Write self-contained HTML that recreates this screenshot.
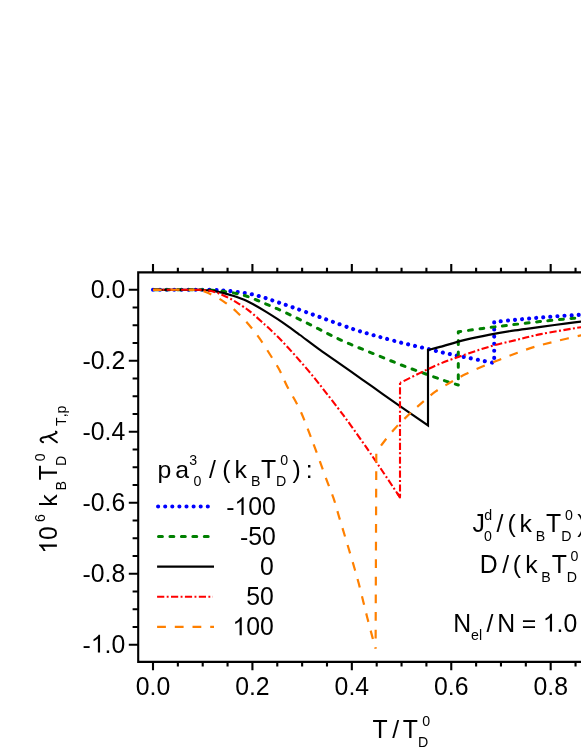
<!DOCTYPE html>
<html><head><meta charset="utf-8"><title>chart</title>
<style>
html,body{margin:0;padding:0;background:#fff;}
body{width:581px;height:752px;overflow:hidden;position:relative;font-family:"Liberation Sans",sans-serif;}
</style></head><body>
<svg width="581" height="752" viewBox="0 0 581 752" style="position:absolute;left:0;top:0;will-change:transform;font-family:'Liberation Sans',sans-serif;">
<rect width="581" height="752" fill="#fff"/>
<g fill="none" stroke-linejoin="miter">
<path d="M153.00 289.80 C160.83 289.80 189.67 289.77 200.00 289.80" stroke="#0000ff" stroke-width="4.1" stroke-linecap="round" stroke-linejoin="round" stroke-dasharray="0.01 7.09" stroke-dashoffset="-0.00"/>
<path d="M200.00 289.80 C210.33 289.83 210.83 289.87 215.00 290.00 C219.17 290.13 221.18 290.25 225.00 290.60 C228.82 290.95 233.45 291.50 237.90 292.10 C242.35 292.70 247.18 293.23 251.70 294.20 C256.22 295.17 260.53 296.52 265.00 297.90 C269.47 299.28 273.93 300.95 278.50 302.50 C283.07 304.05 286.65 305.18 292.40 307.20 C298.15 309.22 306.27 312.17 313.00 314.60 C319.73 317.03 326.05 319.37 332.80 321.80 C339.55 324.23 347.77 327.27 353.50 329.20 C359.23 331.13 362.67 332.07 367.20 333.40 C371.73 334.73 375.02 335.65 380.70 337.20 C386.38 338.75 394.42 340.98 401.30 342.70 C408.18 344.42 415.12 345.87 422.00 347.50 C428.88 349.13 435.73 350.95 442.60 352.50 C449.47 354.05 456.23 355.37 463.20 356.80 C470.17 358.23 479.23 360.07 484.40 361.10 C489.57 362.13 492.57 362.68 494.20 363.00" stroke="#0000ff" stroke-width="4.1" stroke-linecap="round" stroke-linejoin="round" stroke-dasharray="0.01 7.13" stroke-dashoffset="-2.11"/>
<path d="M494.20 363.00 L494.20 322.00 C497.73 321.63 508.37 320.48 515.40 319.80 C522.43 319.12 529.38 318.50 536.40 317.90 C543.42 317.30 550.32 316.72 557.50 316.20 C564.68 315.68 572.42 315.23 579.50 314.80 C586.58 314.37 596.58 313.80 600.00 313.60" stroke="#0000ff" stroke-width="4.1" stroke-linecap="round" stroke-linejoin="round" stroke-dasharray="0.01 7.09" stroke-dashoffset="-5.08"/>
<path d="M153.00 289.80 C160.83 289.80 190.17 289.73 200.00 289.80" stroke="#008000" stroke-width="3.0" stroke-linecap="round" stroke-linejoin="round" stroke-dasharray="3.9 7.55" stroke-dashoffset="-1.50"/>
<path d="M200.00 289.80 C209.83 289.87 208.33 289.97 212.00 290.20 C215.67 290.43 218.27 290.72 222.00 291.20 C225.73 291.68 230.48 292.33 234.40 293.10 C238.32 293.87 241.82 294.65 245.50 295.80 C249.18 296.95 253.07 298.62 256.50 300.00 C259.93 301.38 262.67 302.65 266.10 304.10 C269.53 305.55 271.87 306.32 277.10 308.70 C282.33 311.08 290.65 315.07 297.50 318.40 C304.35 321.73 311.32 325.25 318.20 328.70 C325.08 332.15 331.92 335.88 338.80 339.10 C345.68 342.32 352.52 345.08 359.50 348.00 C366.48 350.92 373.73 353.77 380.70 356.60 C387.67 359.43 394.42 362.33 401.30 365.00 C408.18 367.67 415.12 370.10 422.00 372.60 C428.88 375.10 436.55 377.93 442.60 380.00 C448.65 382.07 455.68 384.17 458.30 385.00" stroke="#008000" stroke-width="3.0" stroke-linecap="round" stroke-linejoin="round" stroke-dasharray="3.9 7.55" stroke-dashoffset="-10.53"/>
<path d="M458.30 385.00 L458.30 331.80 C462.42 331.23 474.58 329.50 483.00 328.40 C491.42 327.30 499.37 326.33 508.80 325.20 C518.23 324.07 528.73 322.77 539.60 321.60 C550.47 320.43 563.93 319.13 574.00 318.20 C584.07 317.27 595.67 316.37 600.00 316.00" stroke="#008000" stroke-width="3.0" stroke-linecap="round" stroke-linejoin="round" stroke-dasharray="3.9 7.55" stroke-dashoffset="-6.24"/>
<path d="M153.00 289.80 C159.17 289.80 182.17 289.78 190.00 289.80 C197.83 289.82 196.67 289.85 200.00 289.95 C203.33 290.05 206.33 289.96 210.00 290.40 C213.67 290.84 218.02 291.65 222.00 292.60 C225.98 293.55 229.92 294.78 233.90 296.10 C237.88 297.42 242.38 298.98 245.90 300.50 C249.42 302.02 251.62 303.32 255.00 305.20 C258.38 307.08 262.48 309.52 266.20 311.80 C269.92 314.08 273.58 316.43 277.30 318.90 C281.02 321.37 284.72 323.92 288.50 326.60 C292.28 329.28 294.75 331.12 300.00 335.00 C305.25 338.88 313.33 345.08 320.00 349.90 C326.67 354.72 332.95 358.95 340.00 363.90 C347.05 368.85 355.63 374.90 362.30 379.60 C368.97 384.30 373.67 387.63 380.00 392.10 C386.33 396.57 392.30 400.83 400.30 406.40 C408.30 411.97 423.38 422.32 428.00 425.50 L428.00 350.00 C430.00 349.48 433.83 348.58 440.00 346.90 C446.17 345.22 456.68 341.95 465.00 339.90 C473.32 337.85 481.58 336.18 489.90 334.60 C498.22 333.02 506.40 331.68 514.90 330.40 C523.40 329.12 532.55 328.03 540.90 326.90 C549.25 325.77 556.82 324.67 565.00 323.60 C573.18 322.53 585.83 321.02 590.00 320.50" stroke="#000" stroke-width="2.15"/>
<path d="M153.00 289.80 C160.00 289.80 186.33 289.73 195.00 289.80" stroke="#ff0000" stroke-width="2.1" stroke-dasharray="7.25 2.4 1.95 2.4" stroke-dashoffset="-0.00"/>
<path d="M195.00 289.80 C203.67 289.87 202.17 289.95 205.00 290.20 C207.83 290.45 209.87 290.82 212.00 291.30 C214.13 291.78 215.80 292.37 217.80 293.10 C219.80 293.83 221.88 294.75 224.00 295.70 C226.12 296.65 228.42 297.70 230.50 298.80 C232.58 299.90 234.50 301.08 236.50 302.30 C238.50 303.52 240.55 304.80 242.50 306.10 C244.45 307.40 246.33 308.68 248.20 310.10 C250.07 311.52 251.50 312.70 253.70 314.60 C255.90 316.50 259.18 319.52 261.40 321.50 C263.62 323.48 264.77 324.43 267.00 326.50 C269.23 328.57 272.22 331.37 274.80 333.90" stroke="#ff0000" stroke-width="2.1" stroke-dasharray="7.25 2.4 1.95 2.4" stroke-dashoffset="-13.17"/>
<path d="M274.80 333.90 C277.38 336.43 279.68 338.75 282.50 341.70 C285.32 344.65 288.75 348.35 291.70 351.60 C294.65 354.85 297.25 357.82 300.20 361.20 C303.15 364.58 306.35 368.25 309.40 371.90 C312.45 375.55 315.52 379.37 318.50 383.10 C321.48 386.83 324.08 390.17 327.30 394.30 C330.52 398.43 334.68 403.82 337.80 407.90 C340.92 411.98 343.27 415.10 346.00 418.80" stroke="#ff0000" stroke-width="2.1" stroke-dasharray="7.25 2.4 1.95 2.4" stroke-dashoffset="-3.25"/>
<path d="M346.00 418.80 C348.73 422.50 351.50 426.32 354.20 430.10 C356.90 433.88 359.55 437.70 362.20 441.50 C364.85 445.30 367.10 448.52 370.10 452.90 C373.10 457.28 377.20 463.35 380.20 467.80 C383.20 472.25 385.78 476.13 388.10 479.60 C390.42 483.07 392.12 485.65 394.10 488.60 C396.08 491.55 399.02 495.85 400.00 497.30" stroke="#ff0000" stroke-width="2.1" stroke-dasharray="7.25 2.4 1.95 2.4" stroke-dashoffset="-4.29"/>
<path d="M400.00 497.30 L400.00 382.90" stroke="#ff0000" stroke-width="2.1" stroke-dasharray="7.183 2.378 1.932 2.378" stroke-dashoffset="-5.72"/>
<path d="M400.00 382.90 C403.37 381.23 413.38 376.15 420.20 372.90 C427.02 369.65 433.30 366.48 440.90 363.40 C448.50 360.32 457.35 357.30 465.80 354.40" stroke="#ff0000" stroke-width="2.1" stroke-dasharray="7.25 2.4 1.95 2.4" stroke-dashoffset="-4.04"/>
<path d="M465.80 354.40 C474.25 351.50 482.98 348.45 491.60 346.00 C500.22 343.55 509.28 341.68 517.50 339.70 C525.72 337.72 530.32 336.18 540.90 334.10 C551.48 332.02 571.15 328.80 581.00 327.20 C590.85 325.60 596.83 324.95 600.00 324.50" stroke="#ff0000" stroke-width="2.1" stroke-dasharray="7.25 2.4 1.95 2.4" stroke-dashoffset="-2.66"/>
<path d="M397.00 492.80 L400.00 497.30 L400.00 493.80" stroke="#ff0000" stroke-width="2.1" stroke-linejoin="round"/>
<path d="M153.00 289.80 C159.17 289.80 182.17 289.67 190.00 289.80" stroke="#ff8000" stroke-width="2.2" stroke-dasharray="8.8 8.9" stroke-dashoffset="-0.00"/>
<path d="M190.00 289.80 C197.83 289.93 196.95 290.05 200.00 290.60 C203.05 291.15 204.40 291.32 208.30 293.10 C212.20 294.88 218.70 298.20 223.40 301.30 C228.10 304.40 232.25 307.78 236.50 311.70 C240.75 315.62 245.12 320.43 248.90 324.80 C252.68 329.17 255.68 332.95 259.20 337.90 C262.72 342.85 266.62 349.15 270.00 354.50 C273.38 359.85 276.63 364.68 279.50 370.00 C282.37 375.32 283.78 379.73 287.20 386.40 C290.62 393.07 295.87 401.07 300.00 410.00 C304.13 418.93 307.70 428.72 312.00 440.00" stroke="#ff8000" stroke-width="2.2" stroke-dasharray="8.8 8.9" stroke-dashoffset="-13.60"/>
<path d="M312.00 440.00 C316.30 451.28 322.20 467.97 325.80 477.70 C329.40 487.43 331.45 492.08 333.60 498.40 C335.75 504.72 336.98 509.87 338.70 515.60 C340.42 521.33 342.17 527.07 343.90 532.80 C345.63 538.53 347.30 543.97 349.10 550.00 C350.90 556.03 353.10 563.47 354.70 569.00 C356.30 574.53 357.32 577.97 358.70 583.20 C360.08 588.43 361.57 594.65 363.00 600.40 C364.43 606.15 365.83 611.95 367.30 617.70 C368.77 623.45 370.42 629.77 371.80 634.90 C373.18 640.03 374.97 646.23 375.60 648.50" stroke="#ff8000" stroke-width="2.2" stroke-dasharray="8.8 8.9" stroke-dashoffset="-4.81"/>
<path d="M375.60 648.50 L376.30 452.60" stroke="#ff8000" stroke-width="2.2" stroke-dasharray="8.75 8.85" stroke-dashoffset="-10.11"/>
<path d="M376.30 452.60 C377.48 450.92 380.22 446.62 383.40 442.50 C386.58 438.38 391.02 432.68 395.40 427.90 C399.78 423.12 405.30 417.97 409.70 413.80 C414.10 409.63 417.47 406.63 421.80 402.90 C426.13 399.17 430.80 394.88 435.70 391.40 C440.60 387.92 446.18 384.90 451.20 382.00 C456.22 379.10 460.50 376.62 465.80 374.00 C471.10 371.38 477.27 368.73 483.00 366.30 C488.73 363.87 494.45 361.65 500.20 359.40 C505.95 357.15 511.75 354.90 517.50 352.80 C523.25 350.70 528.27 348.73 534.70 346.80 C541.13 344.87 548.38 343.10 556.10 341.20 C563.82 339.30 573.68 337.03 581.00 335.40 C588.32 333.77 596.83 332.07 600.00 331.40" stroke="#ff8000" stroke-width="2.2" stroke-dasharray="8.8 8.9" stroke-dashoffset="-8.49"/>
</g>
<g stroke="#000" stroke-width="2.10" fill="none" stroke-linecap="butt">
<path d="M586.00 272.40 H138.20 V661.90 H586.00"/>
<path d="M153.00 272.40 v-8.40 M153.00 661.90 v8.40 M177.86 272.40 v-4.60 M177.86 661.90 v4.60 M202.71 272.40 v-4.60 M202.71 661.90 v4.60 M227.56 272.40 v-4.60 M227.56 661.90 v4.60 M252.42 272.40 v-8.40 M252.42 661.90 v8.40 M277.28 272.40 v-4.60 M277.28 661.90 v4.60 M302.13 272.40 v-4.60 M302.13 661.90 v4.60 M326.99 272.40 v-4.60 M326.99 661.90 v4.60 M351.84 272.40 v-8.40 M351.84 661.90 v8.40 M376.70 272.40 v-4.60 M376.70 661.90 v4.60 M401.55 272.40 v-4.60 M401.55 661.90 v4.60 M426.41 272.40 v-4.60 M426.41 661.90 v4.60 M451.26 272.40 v-8.40 M451.26 661.90 v8.40 M476.12 272.40 v-4.60 M476.12 661.90 v4.60 M500.97 272.40 v-4.60 M500.97 661.90 v4.60 M525.83 272.40 v-4.60 M525.83 661.90 v4.60 M550.68 272.40 v-8.40 M550.68 661.90 v8.40 M575.54 272.40 v-4.60 M575.54 661.90 v4.60 M138.20 289.80 h-9.40 M138.20 307.55 h-5.60 M138.20 325.29 h-5.60 M138.20 343.04 h-5.60 M138.20 360.78 h-9.40 M138.20 378.53 h-5.60 M138.20 396.27 h-5.60 M138.20 414.01 h-5.60 M138.20 431.76 h-9.40 M138.20 449.50 h-5.60 M138.20 467.25 h-5.60 M138.20 485.00 h-5.60 M138.20 502.74 h-9.40 M138.20 520.49 h-5.60 M138.20 538.23 h-5.60 M138.20 555.98 h-5.60 M138.20 573.72 h-9.40 M138.20 591.47 h-5.60 M138.20 609.21 h-5.60 M138.20 626.96 h-5.60 M138.20 644.70 h-9.40"/>
</g>
<g fill="#000">
<text transform="translate(90.82 297.60) scale(1 1.040)" font-size="24.8">0</text><text transform="translate(104.62 297.60)" font-size="24.8">.</text><text transform="translate(111.51 297.60) scale(1 1.040)" font-size="24.8">0</text>
<text transform="translate(82.57 368.58)" font-size="24.8">-</text><text transform="translate(90.82 368.58) scale(1 1.040)" font-size="24.8">0</text><text transform="translate(104.62 368.58)" font-size="24.8">.</text><text transform="translate(111.51 368.58) scale(1 1.040)" font-size="24.8">2</text>
<text transform="translate(82.57 439.56)" font-size="24.8">-</text><text transform="translate(90.82 439.56) scale(1 1.040)" font-size="24.8">0</text><text transform="translate(104.62 439.56)" font-size="24.8">.</text><text transform="translate(111.51 439.56) scale(1 1.040)" font-size="24.8">4</text>
<text transform="translate(82.57 510.54)" font-size="24.8">-</text><text transform="translate(90.82 510.54) scale(1 1.040)" font-size="24.8">0</text><text transform="translate(104.62 510.54)" font-size="24.8">.</text><text transform="translate(111.51 510.54) scale(1 1.040)" font-size="24.8">6</text>
<text transform="translate(82.57 581.52)" font-size="24.8">-</text><text transform="translate(90.82 581.52) scale(1 1.040)" font-size="24.8">0</text><text transform="translate(104.62 581.52)" font-size="24.8">.</text><text transform="translate(111.51 581.52) scale(1 1.040)" font-size="24.8">8</text>
<text transform="translate(82.57 652.50)" font-size="24.8">-</text><path transform="translate(90.82 652.50) scale(0.01211 -0.01211)" d="M763 0H583V1147Q518 1085 412.5 1023Q307 961 223 930V1104Q374 1175 487 1276Q600 1377 647 1472H763Z"/><text transform="translate(104.62 652.50)" font-size="24.8">.</text><text transform="translate(111.51 652.50) scale(1 1.040)" font-size="24.8">0</text>
<text transform="translate(135.76 694.70) scale(1 1.040)" font-size="24.8">0</text><text transform="translate(149.55 694.70)" font-size="24.8">.</text><text transform="translate(156.45 694.70) scale(1 1.040)" font-size="24.8">0</text>
<text transform="translate(235.18 694.70) scale(1 1.040)" font-size="24.8">0</text><text transform="translate(248.97 694.70)" font-size="24.8">.</text><text transform="translate(255.87 694.70) scale(1 1.040)" font-size="24.8">2</text>
<text transform="translate(334.60 694.70) scale(1 1.040)" font-size="24.8">0</text><text transform="translate(348.39 694.70)" font-size="24.8">.</text><text transform="translate(355.29 694.70) scale(1 1.040)" font-size="24.8">4</text>
<text transform="translate(434.02 694.70) scale(1 1.040)" font-size="24.8">0</text><text transform="translate(447.81 694.70)" font-size="24.8">.</text><text transform="translate(454.71 694.70) scale(1 1.040)" font-size="24.8">6</text>
<text transform="translate(533.44 694.70) scale(1 1.040)" font-size="24.8">0</text><text transform="translate(547.23 694.70)" font-size="24.8">.</text><text transform="translate(554.13 694.70) scale(1 1.040)" font-size="24.8">8</text>
<text transform="translate(157.60 477.70)" font-size="24.8">p</text><text transform="translate(175.35 477.70)" font-size="24.8">a</text><text transform="translate(189.16 465.40) scale(1 1.040)" font-size="14.2">3</text><text transform="translate(193.45 486.10) scale(1 1.040)" font-size="14.2">0</text><text transform="translate(209.00 477.70)" font-size="24.8">/</text><text transform="translate(222.36 477.70)" font-size="24.8">(</text><text transform="translate(234.53 477.70)" font-size="24.8">k</text><text transform="translate(250.94 486.10) scale(1 1.040)" font-size="14.2">B</text><text transform="translate(260.94 477.70) scale(1 1.040)" font-size="24.8">T</text><text transform="translate(280.25 465.40) scale(1 1.040)" font-size="14.2">0</text><text transform="translate(276.04 486.10) scale(1 1.040)" font-size="14.2">D</text><text transform="translate(292.45 477.70)" font-size="24.8">)</text><text transform="translate(305.74 477.70)" font-size="24.8">:</text>
<text transform="translate(226.16 515.00)" font-size="24.8">-</text><path transform="translate(234.42 515.00) scale(0.01211 -0.01211)" d="M763 0H583V1147Q518 1085 412.5 1023Q307 961 223 930V1104Q374 1175 487 1276Q600 1377 647 1472H763Z"/><text transform="translate(248.21 515.00) scale(1 1.040)" font-size="24.8">0</text><text transform="translate(262.01 515.00) scale(1 1.040)" font-size="24.8">0</text>
<text transform="translate(239.96 544.90)" font-size="24.8">-</text><text transform="translate(248.21 544.90) scale(1 1.040)" font-size="24.8">5</text><text transform="translate(262.01 544.90) scale(1 1.040)" font-size="24.8">0</text>
<text transform="translate(260.11 574.90) scale(1 1.040)" font-size="24.8">0</text>
<text transform="translate(246.31 605.00) scale(1 1.040)" font-size="24.8">5</text><text transform="translate(260.11 605.00) scale(1 1.040)" font-size="24.8">0</text>
<path transform="translate(232.52 635.20) scale(0.01211 -0.01211)" d="M763 0H583V1147Q518 1085 412.5 1023Q307 961 223 930V1104Q374 1175 487 1276Q600 1377 647 1472H763Z"/><text transform="translate(246.31 635.20) scale(1 1.040)" font-size="24.8">0</text><text transform="translate(260.11 635.20) scale(1 1.040)" font-size="24.8">0</text>
<text transform="translate(472.51 532.40) scale(1 1.040)" font-size="24.8">J</text><text transform="translate(484.20 520.10)" font-size="14.2">d</text><text transform="translate(484.05 540.80) scale(1 1.040)" font-size="14.2">0</text><text transform="translate(496.60 532.40)" font-size="24.8">/</text><text transform="translate(507.56 532.40)" font-size="24.8">(</text><text transform="translate(519.53 532.40)" font-size="24.8">k</text><text transform="translate(535.74 540.80) scale(1 1.040)" font-size="14.2">B</text><text transform="translate(545.94 532.40) scale(1 1.040)" font-size="24.8">T</text><text transform="translate(565.05 520.10) scale(1 1.040)" font-size="14.2">0</text><text transform="translate(561.14 540.80) scale(1 1.040)" font-size="14.2">D</text><text transform="translate(577.25 532.40)" font-size="24.8">)</text>
<text transform="translate(479.87 573.30) scale(1 1.040)" font-size="24.8">D</text><text transform="translate(502.20 573.30)" font-size="24.8">/</text><text transform="translate(512.66 573.30)" font-size="24.8">(</text><text transform="translate(525.13 573.30)" font-size="24.8">k</text><text transform="translate(541.24 581.70) scale(1 1.040)" font-size="14.2">B</text><text transform="translate(551.64 573.30) scale(1 1.040)" font-size="24.8">T</text><text transform="translate(570.55 561.00) scale(1 1.040)" font-size="14.2">0</text><text transform="translate(566.74 581.70) scale(1 1.040)" font-size="14.2">D</text>
<text transform="translate(453.27 631.60) scale(1 1.040)" font-size="24.8">N</text><text transform="translate(471.00 639.80)" font-size="14.2">e</text><text transform="translate(478.89 639.80)" font-size="14.2">l</text><text transform="translate(486.50 631.60)" font-size="24.8">/</text><text transform="translate(497.37 631.60) scale(1 1.040)" font-size="24.8">N</text><text transform="translate(521.79 631.60)" font-size="24.8">=</text><path transform="translate(542.80 631.60) scale(0.01211 -0.01211)" d="M763 0H583V1147Q518 1085 412.5 1023Q307 961 223 930V1104Q374 1175 487 1276Q600 1377 647 1472H763Z"/><text transform="translate(556.59 631.60)" font-size="24.8">.</text><text transform="translate(563.48 631.60) scale(1 1.040)" font-size="24.8">0</text>
<text transform="translate(372.44 737.60) scale(1 1.040)" font-size="24.8">T</text><text transform="translate(392.20 737.60)" font-size="24.8">/</text><text transform="translate(402.64 737.60) scale(1 1.040)" font-size="24.8">T</text><text transform="translate(422.25 725.90) scale(1 1.040)" font-size="14.2">0</text><text transform="translate(418.04 746.60) scale(1 1.040)" font-size="14.2">D</text>
<path transform="translate(56.90 553.70) rotate(-90) scale(0.01211 -0.01211)" d="M763 0H583V1147Q518 1085 412.5 1023Q307 961 223 930V1104Q374 1175 487 1276Q600 1377 647 1472H763Z"/><text transform="translate(56.90 539.91) rotate(-90) scale(1 1.040)" font-size="24.8">0</text><text transform="translate(45.30 521.92) rotate(-90) scale(1 1.040)" font-size="14.2">6</text><text transform="translate(56.90 506.87) rotate(-90)" font-size="24.8">k</text><text transform="translate(65.80 490.46) rotate(-90) scale(1 1.040)" font-size="14.2">B</text><text transform="translate(56.90 480.26) rotate(-90) scale(1 1.040)" font-size="24.8">T</text><text transform="translate(45.30 461.35) rotate(-90) scale(1 1.040)" font-size="14.2">0</text><text transform="translate(65.80 465.96) rotate(-90) scale(1 1.040)" font-size="14.2">D</text><text transform="translate(65.80 426.02) rotate(-90) scale(1 1.040)" font-size="14.2">T</text><text transform="translate(65.80 417.35) rotate(-90)" font-size="14.2">,</text><text transform="translate(65.80 413.40) rotate(-90)" font-size="14.2">p</text>
</g>
<g fill="none" stroke="#000" stroke-width="2.0" stroke-linecap="round" stroke-linejoin="round">
<path d="M43.1 442.3 C41.9 441.9 41.2 441.4 40.8 440.6 C40.3 439.6 40.7 438.5 42.0 437.9 C43.0 437.5 44.0 437.4 45.1 437.2 L48.5 436.3 L52.4 434.9 L55.2 433.7 C56.2 433.2 56.8 432.8 56.6 432.2 C56.5 431.9 56.3 431.7 55.9 431.6"/>
<path d="M48.5 436.3 L56.9 442.3"/>
</g>
<g fill="none">
<path d="M158.10 506.50 H208.20" stroke="#0000ff" stroke-width="4.1" stroke-linecap="round" stroke-linejoin="round" stroke-dasharray="0.01 7.09"/>
<path d="M158.50 536.60 H213.60" stroke="#008000" stroke-width="3.0" stroke-linecap="round" stroke-linejoin="round" stroke-dasharray="3.9 7.55"/>
<path d="M157.10 566.60 H214.00" stroke="#000" stroke-width="2.15"/>
<path d="M157.10 596.70 H212.90" stroke="#ff0000" stroke-width="2.1" stroke-dasharray="7.2 2.4 1.9 2.4"/>
<path d="M157.10 626.80 H214.00" stroke="#ff8000" stroke-width="2.2" stroke-dasharray="8.8 8.9"/>
</g>
</svg>
</body></html>
